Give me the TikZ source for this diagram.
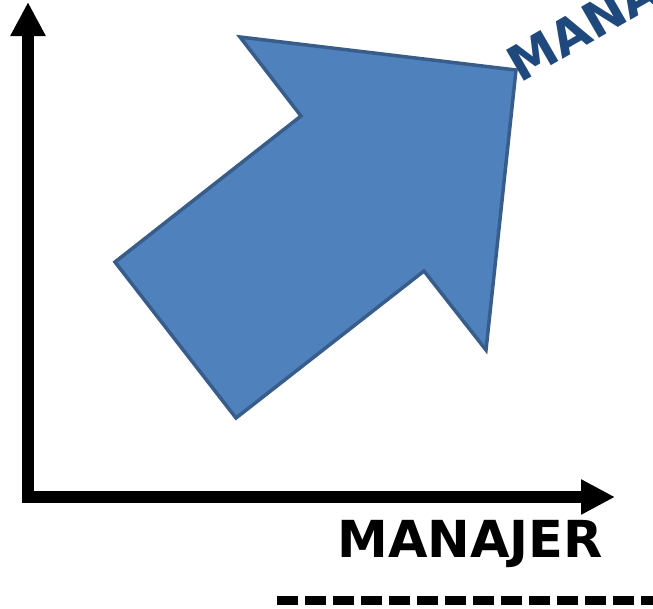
\documentclass[tikz,border=0pt]{standalone}
\usepackage{fontspec}
\setmainfont{DejaVu Sans}
\usetikzlibrary{arrows.meta}
\definecolor{arrowfill}{HTML}{4F81BD}
\definecolor{arrowline}{HTML}{385D8A}
\definecolor{titleblue}{HTML}{1F497D}
\begin{document}
\begin{tikzpicture}[x=1pt,y=-1pt,
  axis/.style={line width=12pt, line join=miter,
    {Triangle[length=34pt,width=33pt]}-{Triangle[length=34pt,width=33pt]}},
  bigarrow/.style={fill=arrowfill, draw=arrowline, line width=3.5pt, line join=miter},
  axislabel/.style={font=\fontsize{51}{60}\selectfont\bfseries, text=black, inner sep=0pt},
  toplabel/.style={font=\fontsize{49}{58}\selectfont\bfseries, text=titleblue, inner sep=0pt},
  dashline/.style={line width=9pt, dash pattern=on 21pt off 7pt}]
\useasboundingbox (0,0) rectangle (653,608);
% axes
\coordinate (ytip) at (28,2);
\coordinate (origin) at (28,497);
\coordinate (xtip) at (615,497);
\draw[axis] (ytip) -- (origin) -- (xtip);
% big arrow
\coordinate (tl) at (115,262);
\coordinate (n1) at (301,116);
\coordinate (b1) at (240,37);
\coordinate (tip) at (516,70);
\coordinate (b2) at (486,350);
\coordinate (n2) at (424,271);
\coordinate (tb) at (236,418);
\draw[bigarrow] (tl) -- (n1) -- (b1) -- (tip) -- (b2) -- (n2) -- (tb) -- cycle;
% labels
\node[axislabel, anchor=base] (xlab) at (470,557) {MANAJER};
\node[toplabel, anchor=base west, rotate=30] (ylab) at (520,84) {MANA};
% dashed line
\coordinate (dstart) at (277,600.5);
\coordinate (dend) at (660,600.5);
\draw[dashline] (dstart) -- (dend);
\end{tikzpicture}
\end{document}
